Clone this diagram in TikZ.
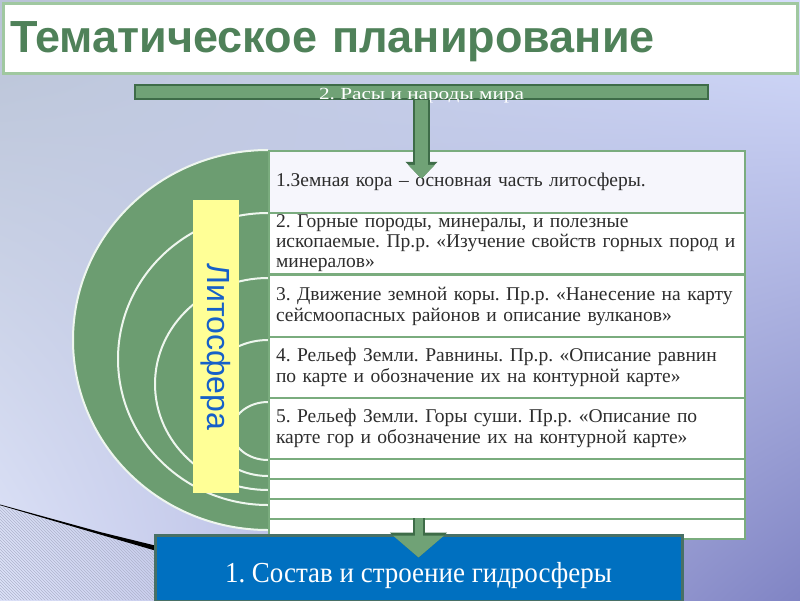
\documentclass[tikz,border=0pt]{standalone}
\usepackage{fontspec}
\setmainfont{Liberation Serif}
\newfontfamily\headfont{Liberation Sans}
\newfontfamily\barfont[FakeStretch=1.25]{Liberation Serif}
\newfontfamily\hydrofont[FakeStretch=0.93]{Liberation Serif}
\usetikzlibrary{arrows.meta,patterns,shadings}
\frenchspacing

\definecolor{bgul}{RGB}{185,195,214}
\definecolor{bgur}{RGB}{214,222,252}
\definecolor{bgll}{RGB}{222,227,250}
\definecolor{bglr}{RGB}{128,132,196}
\definecolor{headgreen}{RGB}{79,129,89}
\definecolor{headline}{RGB}{160,200,160}
\definecolor{ringgreen}{RGB}{108,157,113}
\definecolor{ringline}{RGB}{238,246,238}
\definecolor{bargreen}{RGB}{112,162,118}
\definecolor{bardark}{RGB}{62,108,72}
\definecolor{rowline}{RGB}{122,172,126}
\definecolor{rowfirst}{RGB}{246,246,252}
\definecolor{rowtext}{RGB}{45,45,45}
\definecolor{lithoyellow}{RGB}{255,255,150}
\definecolor{lithoblue}{RGB}{22,96,200}
\definecolor{hydroblue}{RGB}{0,112,192}
\definecolor{hydroline}{RGB}{72,112,102}
\definecolor{hatchline}{RGB}{175,180,205}

\tikzset{
  ring/.style={fill=ringgreen, draw=ringline, line width=2pt},
  rowbox/.style={draw=rowline, line width=2pt, fill=white, anchor=north west,
    inner xsep=7pt, inner ysep=0pt, text width=462pt, align=left,
    font=\fontsize{19.5}{21}\selectfont, text=rowtext},
  arrowout/.style={draw=bardark, line width=17pt, -{Triangle[length=17pt,width=31pt]}},
  arrowin/.style={draw=bargreen, line width=13pt, -{Triangle[length=14pt,width=26pt]}},
}

\begin{document}
\begin{tikzpicture}[x=1pt,y=-1pt]
  \useasboundingbox (0,0) rectangle (800,600);

  % Background of the slide
  \shade[upper left=bgul, upper right=bgur, lower left=bgll, lower right=bglr]
    (0,0) rectangle (800,600);
  \fill[pattern=north west lines, pattern color=hatchline]
    (0,506) -- (155,551) -- (155,600) -- (0,600) -- cycle;
  \fill[black] (0,504.5) -- (100,532) -- (155,545.5) -- (155,550.5) -- (100,534.5) -- (0,505.2) -- cycle;

  % Title
  \node[draw=headline, line width=3pt, fill=white, minimum width=794pt, minimum height=70pt,
    inner xsep=7pt, text width=780pt, align=left, text height=33pt, text depth=4pt,
    font=\headfont\bfseries\fontsize{45}{45}\selectfont, text=headgreen]
    (head) at (400,38) {Тематическое планирование};

  % Green bar with the previous topic
  \node[fill=bargreen, draw=bardark, line width=1.5pt, minimum width=573pt, minimum height=14pt,
    inner sep=0pt, text height=14pt, text depth=0pt,
    font=\barfont\fontsize{17}{17}\selectfont, text=white]
    (races) at (421.5,92) {2. Расы и народы мира};

  % Nested half rings
  \begin{scope}
    \clip (0,0) rectangle (268,600);
    \foreach \cy/\rx/\ry in {340/195/190, 359/150/146, 384/113/106, 408/70/68, 431/36/29}
      \draw[ring] (268,\cy) ellipse [x radius=\rx, y radius=\ry];
  \end{scope}

  % Yellow label
  \node[fill=lithoyellow, rotate=-90, minimum width=293pt, minimum height=46pt, inner sep=0pt,
    font=\headfont\fontsize{32}{32}\selectfont, text=lithoblue]
    (litho) at (216,346.5) {Литосфера};

  % Rows of lessons
  \node[rowbox, fill=rowfirst, minimum height=62pt] (lith1) at (268,150)
    {1.Земная кора – основная часть литосферы.};
  \node[rowbox, minimum height=61pt, font=\fontsize{19.5}{20}\selectfont] (lith2) at (268,212)
    {2. Горные породы, минералы, и полезные\\ископаемые. Пр.р. «Изучение свойств горных пород и\\минералов»};
  \node[rowbox, minimum height=62pt] (lith3) at (268,274)
    {3. Движение земной коры. Пр.р. «Нанесение на карту\\сейсмоопасных районов и описание вулканов»};
  \node[rowbox, minimum height=61pt] (lith4) at (268,336)
    {4. Рельеф Земли. Равнины. Пр.р. «Описание равнин\\по карте и обозначение их на контурной карте»};
  \node[rowbox, minimum height=61pt] (lith5) at (268,397)
    {5. Рельеф Земли. Горы суши. Пр.р. «Описание по\\карте гор и обозначение их на контурной карте»};
  \foreach \i/\top in {6/458, 7/478, 8/498, 9/518}
    \node[rowbox, minimum height=20pt] (lith\i) at (268,\top) {};

  % Next topic
  \node[fill=hydroblue, draw=hydroline, line width=3pt, minimum width=527pt, minimum height=66pt,
    text height=28pt, text depth=0pt,
    font=\hydrofont\fontsize{29}{29}\selectfont, text=white]
    (hydro) at (418.5,568) {1. Состав и строение гидросферы};

  % Arrows
  \coordinate (tip1) at ([yshift=-79pt]races.south);
  \draw[arrowout] (races.south) -- (tip1);
  \draw[arrowin] (races.south) -- (tip1);
  \coordinate (foot2) at (hydro.north |- lith9.north);
  \coordinate (tip2) at ([yshift=-24pt]hydro.north);
  \draw[draw=bardark, line width=12pt, -{Triangle[length=25pt,width=56pt]}] (foot2) -- (tip2);
  \draw[draw=bargreen, line width=8pt, -{Triangle[length=22pt,width=50pt]}] (foot2) -- (tip2);
\end{tikzpicture}
\end{document}
